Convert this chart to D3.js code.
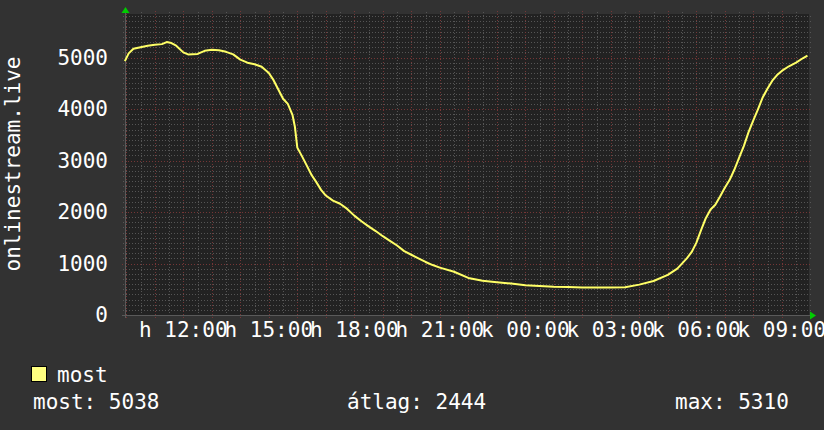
<!DOCTYPE html>
<html>
<head>
<meta charset="utf-8">
<script src="https://cdn.jsdelivr.net/npm/d3@7"></script>
<style>
  body { margin: 0; background: #323232; }
  svg { display: block; }
  text { font-family: "DejaVu Sans Mono", monospace; font-size: 21px; fill: #ffffff; }
</style>
</head>
<body>
<svg width="824" height="430"></svg>
<script>
// time of each sample (Monday / Tuesday, "HH:MM") and the value
const times = [
  "h 09:57","h 10:05","h 10:15","h 10:30","h 10:45","h 11:00","h 11:15","h 11:25","h 11:35","h 11:45",
  "h 12:00","h 12:10","h 12:30","h 12:45","h 13:00","h 13:15","h 13:30","h 13:45","h 14:00","h 14:15",
  "h 14:30","h 14:45","h 15:00","h 15:10","h 15:20","h 15:30","h 15:40","h 15:50","h 15:55","h 16:00",
  "h 16:10","h 16:20","h 16:30","h 16:40","h 16:50","h 17:00","h 17:15","h 17:30","h 17:45","h 18:00",
  "h 18:15","h 18:30","h 18:45","h 19:00","h 19:15","h 19:30","h 19:45","h 20:00","h 20:15","h 20:30",
  "h 20:45","h 21:00","h 21:30","h 22:00","h 22:30","h 23:00","h 23:30","k 00:00","k 00:30","k 01:00",
  "k 01:30","k 02:00","k 02:30","k 03:00","k 03:30","k 04:00","k 04:30","k 05:00","k 05:20","k 05:40",
  "k 05:50","k 06:00","k 06:10","k 06:20","k 06:30","k 06:40","k 06:50","k 07:00","k 07:10","k 07:20",
  "k 07:30","k 07:40","k 07:50","k 08:00","k 08:10","k 08:20","k 08:30","k 08:40","k 08:50","k 09:00",
  "k 09:15","k 09:30","k 09:45","k 09:54"
];
const most = [
  4930,5080,5170,5200,5230,5250,5260,5300,5280,5230,
  5100,5060,5070,5130,5150,5140,5110,5060,4960,4900,
  4870,4820,4700,4560,4380,4200,4100,3880,3650,3250,
  3080,2900,2720,2580,2430,2320,2220,2160,2060,1930,
  1820,1720,1630,1530,1440,1350,1240,1170,1100,1030,
  970,920,840,720,665,635,610,580,565,550,
  545,535,535,535,540,590,660,780,900,1100,
  1220,1400,1650,1880,2050,2140,2300,2470,2620,2820,
  3050,3280,3550,3780,4000,4230,4400,4550,4660,4740,
  4830,4900,4990,5038
];
const tickTimes = ["h 12:00","h 15:00","h 18:00","h 21:00","k 00:00","k 03:00","k 06:00","k 09:00"];
const yTicks = [0, 1000, 2000, 3000, 4000, 5000];
const statNames = ["most", "átlag", "max"];
const statValues = [5038, 2444, 5310];

// "h" = hétfő (2024-01-01), "k" = kedd
function parseT(s) {
  const day = s[0] === "h" ? 1 : 2;
  const [hh, mm] = s.slice(2).split(":").map(Number);
  return new Date(2024, 0, day, hh, mm);
}
const data = times.map((t, i) => ({ t: parseT(t), v: most[i] }));

const svg = d3.select("svg"),
      margin = { top: 14, right: 15, bottom: 115, left: 125 },
      width = +svg.attr("width") - margin.left - margin.right,
      height = +svg.attr("height") - margin.top - margin.bottom;

const start = new Date(2024, 0, 1, 9, 57, 15),
      end = new Date(2024, 0, 2, 9, 57, 15);

const x = d3.scaleTime().domain([start, end]).range([0, width]);
const y = d3.scaleLinear().domain([0, 5845]).range([height, 0]);

const g = svg.append("g").attr("transform", `translate(${margin.left},${margin.top})`);

g.append("rect")
 .attr("width", width)
 .attr("height", height)
 .attr("fill", "#222222");

// minor grid
const minorX = d3.timeMinute.every(30).range(start, end).filter(d => d.getMinutes() === 30);
const minorY = d3.range(100, 5845, 100).filter(v => v % 1000 !== 0);

g.selectAll(".gx")
 .data(minorX)
 .enter().append("line")
 .attr("x1", d => Math.round(x(d)) + 0.5).attr("x2", d => Math.round(x(d)) + 0.5)
 .attr("y1", -2).attr("y2", height + 2)
 .attr("stroke", "#555555").attr("stroke-dasharray", "1,2");

g.selectAll(".gy")
 .data(minorY)
 .enter().append("line")
 .attr("y1", d => Math.round(y(d)) + 0.5).attr("y2", d => Math.round(y(d)) + 0.5)
 .attr("x1", -2).attr("x2", width + 2)
 .attr("stroke", "#555555").attr("stroke-dasharray", "1,2");

// major grid
const majorX = d3.timeHour.range(start, end);
g.selectAll(".mx")
 .data(majorX)
 .enter().append("line")
 .attr("x1", d => Math.round(x(d)) + 0.5).attr("x2", d => Math.round(x(d)) + 0.5)
 .attr("y1", -3).attr("y2", height + 3)
 .attr("stroke", "#753636").attr("stroke-dasharray", "1,2");

g.selectAll(".my")
 .data(yTicks.filter(v => v > 0))
 .enter().append("line")
 .attr("y1", d => Math.round(y(d)) + 0.5).attr("y2", d => Math.round(y(d)) + 0.5)
 .attr("x1", -3).attr("x2", width + 3)
 .attr("stroke", "#753636").attr("stroke-dasharray", "1,2");

// axes
g.append("line")
 .attr("x1", -3).attr("x2", width + 3)
 .attr("y1", height + 0.5).attr("y2", height + 0.5)
 .attr("stroke", "#5a5a5a");
g.append("line")
 .attr("x1", 0.5).attr("x2", 0.5)
 .attr("y1", height + 3).attr("y2", -3)
 .attr("stroke", "#5a5a5a");
g.append("path")
 .attr("d", `M${width + 1},${height - 3.5}L${width + 7},${height + 0.5}L${width + 1},${height + 4.5}Z`)
 .attr("fill", "#00cc00");
g.append("path")
 .attr("d", `M-3.5,-1L0.5,-7L4.5,-1Z`)
 .attr("fill", "#00cc00");

// y labels
g.selectAll(".ylab")
 .data(yTicks)
 .enter().append("text")
 .attr("x", -17)
 .attr("y", d => y(d))
 .attr("dy", "0.35em")
 .attr("text-anchor", "end")
 .text(d => d);

// x labels
g.selectAll(".xlab")
 .data(tickTimes)
 .enter().append("text")
 .attr("x", d => x(parseT(d)))
 .attr("y", height + 22)
 .attr("text-anchor", "middle")
 .text(d => d);

// the line
const line = d3.line()
  .x(d => x(d.t))
  .y(d => y(d.v));

g.append("path")
 .datum(data)
 .attr("fill", "none")
 .attr("stroke", "#ffff66")
 .attr("stroke-width", 2)
 .attr("stroke-linejoin", "round")
 .attr("d", line);

// vertical title
svg.append("text")
   .attr("transform", "translate(20,164) rotate(-90)")
   .attr("text-anchor", "middle")
   .text("onlinestream.live");

// legend
svg.append("rect")
   .attr("x", 31.5).attr("y", 366.5)
   .attr("width", 15).attr("height", 15)
   .attr("fill", "#ffff80")
   .attr("stroke", "#000");
svg.append("text")
   .attr("x", 57).attr("y", 382)
   .text(statNames[0]);

const statX = [33, 347, 675];
svg.selectAll(".stat")
   .data(statNames)
   .enter().append("text")
   .attr("x", (d, i) => statX[i])
   .attr("y", 409)
   .text((d, i) => `${d}: ${statValues[i]}`);
</script>
</body>
</html>
